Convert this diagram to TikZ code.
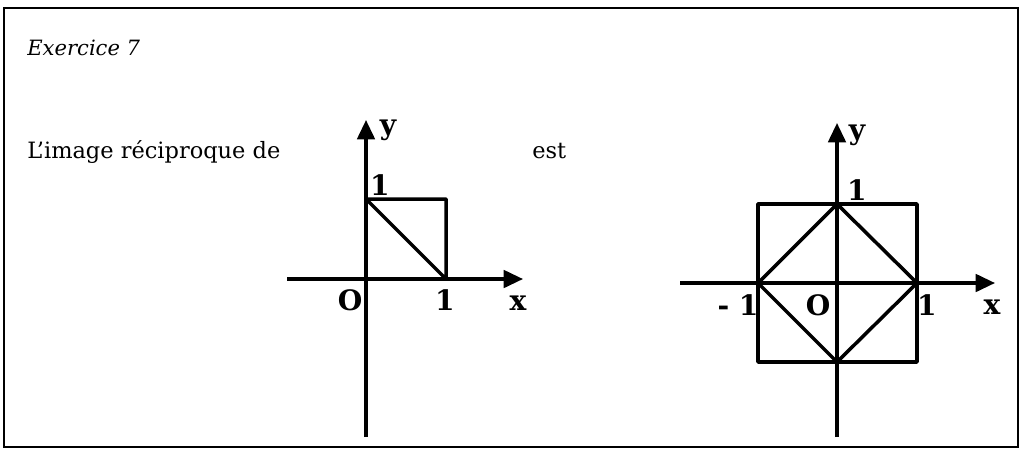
\documentclass[tikz,border=0pt]{standalone}
\usepackage{fontspec}
\setmainfont{DejaVu Serif}
\usetikzlibrary{arrows.meta}

\begin{document}
\begin{tikzpicture}[
    x=0.02cm, y=-0.02cm,
    >={Triangle[length=11pt,width=10pt]},
    txt/.style={inner sep=0pt, font=\fontsize{12.8}{15}\selectfont},
    lab/.style={inner sep=0pt, font=\fontsize{16}{19}\selectfont\bfseries},
    axis/.style={->, line width=1.8pt},
    fig/.style={line width=2pt, line join=round},
  ]
  \useasboundingbox (0,0) rectangle (1030,454);
  \draw[line width=1.4pt] (4,8) rectangle (1018,447);

  %% ---- texts ---------------------------------------------------------
  \node[txt, anchor=base west, font=\fontsize{12}{14}\selectfont\itshape]
    (title) at (27,55) {Exercice 7};
  \node[txt, anchor=base west] (intro) at (27,158) {L’image réciproque de};
  \node[txt, anchor=base west] (est) at (532,158) {est};

  %% ---- first set ----------------------------------------------------
  \coordinate (xa1) at (287,279);  \coordinate (xb1) at (523,279);
  \coordinate (ya1) at (366,437);  \coordinate (yb1) at (366,120);
  \coordinate (p1) at (366,199);   \coordinate (q1) at (446,199);
  \coordinate (r1) at (446,279);
  \draw[axis] (xa1) -- (xb1);
  \draw[axis] (ya1) -- (yb1);
  \draw[fig] (p1) -- (q1) -- (r1) -- cycle;
  \node[lab] (ylab1) at (388,130) {y};
  \node[lab] (one1y) at (380,185) {1};
  \node[lab] (o1) at (350,300) {O};
  \node[lab] (one1x) at (445,300) {1};
  \node[lab] (xlab1) at (518,303) {x};

  %% ---- second set ---------------------------------------------------
  \coordinate (xa2) at (680,283);  \coordinate (xb2) at (995,283);
  \coordinate (ya2) at (837,437);  \coordinate (yb2) at (837,123);
  \coordinate (w2) at (758,283);   \coordinate (n2) at (837,204);
  \coordinate (e2) at (917,283);   \coordinate (s2) at (837,362);
  \draw[axis] (xa2) -- (xb2);
  \draw[axis] (ya2) -- (yb2);
  \draw[fig] (758,204) rectangle (917,362);
  \draw[fig] (w2) -- (n2) -- (e2) -- (s2) -- cycle;
  \node[lab] (ylab2) at (857,135) {y};
  \node[lab] (one2y) at (857,190) {1};
  \node[lab] (mone2) at (738,305) {- 1};
  \node[lab] (o2) at (818,305) {O};
  \node[lab] (one2x) at (927,305) {1};
  \node[lab] (xlab2) at (992,307) {x};
\end{tikzpicture}
\end{document}
